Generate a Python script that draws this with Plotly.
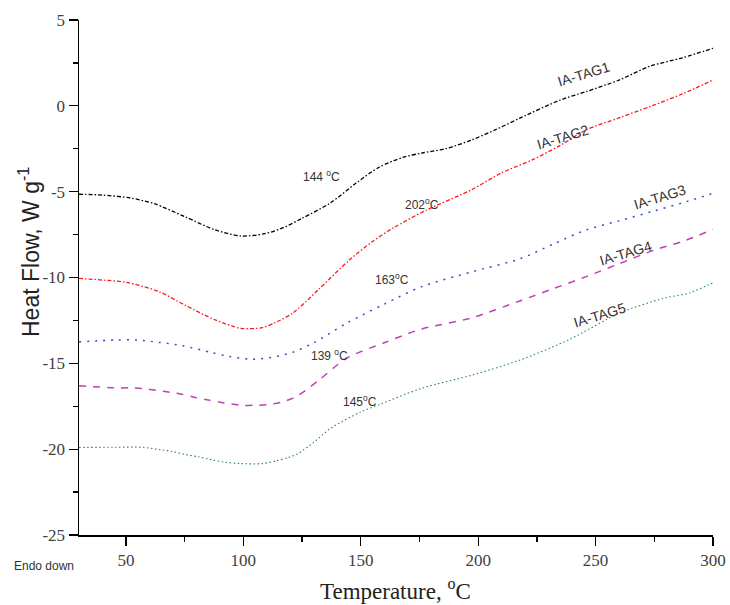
import plotly.graph_objects as go

# ---- data ----
x_tag1 = [30, 40, 52, 62, 75, 88, 99, 109, 117, 125, 137, 148, 158, 168, 176, 186, 197, 208, 218, 235, 246, 260, 273, 287, 300]
y_tag1 = [-5.15, -5.2, -5.37, -5.7, -6.45, -7.23, -7.58, -7.45, -7.1, -6.55, -5.66, -4.5, -3.56, -3.0, -2.75, -2.5, -2.0, -1.35, -0.7, 0.34, 0.83, 1.5, 2.3, 2.8, 3.35]

x_tag2 = [30, 40, 50, 64, 75, 88, 99, 108, 114, 121, 132, 145, 155, 164, 178, 197, 210, 223, 235, 246, 260, 274, 287, 300]
y_tag2 = [-10.05, -10.15, -10.28, -10.82, -11.6, -12.47, -12.96, -12.92, -12.6, -12.08, -10.7, -9.0, -7.9, -7.1, -6.07, -4.9, -3.9, -3.15, -2.3, -1.4, -0.7, 0.0, 0.7, 1.5]

x_tag3 = [30, 46, 55, 64, 74, 86, 94, 103, 112, 121, 130, 144, 160, 176, 197, 218, 232, 246, 260, 274, 287, 300]
y_tag3 = [-13.75, -13.64, -13.64, -13.78, -13.97, -14.36, -14.6, -14.76, -14.65, -14.36, -13.8, -12.66, -11.55, -10.53, -9.68, -8.9, -8.05, -7.23, -6.7, -6.16, -5.65, -5.1]

x_tag4 = [30, 45, 52, 59, 66, 73, 79, 85, 91, 99, 106, 113, 118, 123, 132, 144, 160, 176, 197, 218, 232, 246, 260, 275, 287, 300]
y_tag4 = [-16.3, -16.43, -16.43, -16.5, -16.63, -16.78, -16.97, -17.13, -17.29, -17.44, -17.44, -17.36, -17.19, -16.9, -16.0, -14.7, -13.8, -13.0, -12.36, -11.35, -10.65, -9.95, -9.2, -8.4, -7.9, -7.2]

x_tag5 = [30, 45, 57, 65, 70, 75, 81, 87, 92, 99, 108, 114, 119, 123, 130, 137, 150, 158, 176, 197, 218, 239, 260, 279, 290, 300]
y_tag5 = [-19.9, -19.89, -19.89, -20.04, -20.14, -20.3, -20.45, -20.63, -20.76, -20.84, -20.84, -20.68, -20.49, -20.28, -19.6, -18.8, -17.83, -17.4, -16.45, -15.7, -14.8, -13.6, -12.08, -11.21, -10.9, -10.3]

series = [
    ("IA-TAG1", x_tag1, y_tag1, "#000000", "4px,2px,1.5px,2px", 1.3),
    ("IA-TAG2", x_tag2, y_tag2, "#ff1a1a", "4px,2px,1.5px,2px", 1.3),
    ("IA-TAG3", x_tag3, y_tag3, "#3050c8", "2px,6px", 1.5),
    ("IA-TAG4", x_tag4, y_tag4, "#c040b8", "7px,7px", 1.5),
    ("IA-TAG5", x_tag5, y_tag5, "#2a8a4a", "1.5px,2.5px", 1.1),
]

x_ticks = [50, 100, 150, 200, 250, 300]
x_ticktext = ["50", "100", "150", "200", "250", "300"]
y_ticks = [5, 0, -5, -10, -15, -20, -25]
y_ticktext = ["5", "0", "-5", "-10", "-15", "-20", "-25"]

# series labels: (text, x, y, angle)
series_labels = [
    ("IA-TAG1", 245.1, 1.85, -17),
    ("IA-TAG2", 236.1, -1.8, -17),
    ("IA-TAG3", 277.4, -5.3, -17),
    ("IA-TAG4", 263.0, -8.6, -17),
    ("IA-TAG5", 251.9, -12.2, -17),
]
# peak temperature labels
temp_labels = [
    ("144 <sup>o</sup>C", 133.1, -4.08),
    ("202<sup>o</sup>C", 176.1, -5.72),
    ("163<sup>o</sup>C", 163.3, -10.1),
    ("139 <sup>o</sup>C", 136.5, -14.52),
    ("145<sup>o</sup>C", 149.7, -17.2),
]

W, H = 730, 605
ml, mr, mt, mb = 79, 17, 20, 70
pw, ph = W - ml - mr, H - mt - mb

fig = go.Figure()
for name, xs, ys, col, dash, w in series:
    fig.add_trace(go.Scatter(x=xs, y=ys, mode="lines", name=name,
                             line=dict(color=col, dash=dash, width=w, shape="spline", smoothing=0.8),
                             showlegend=False, hoverinfo="skip"))

sans = "Liberation Sans"
serif = "Liberation Serif"
anns = []
for t, x, y, a in series_labels:
    anns.append(dict(text=t, x=x, y=y, xref="x", yref="y", showarrow=False, textangle=a,
                     xanchor="center", yanchor="middle",
                     font=dict(family=sans, size=14, color="#333333")))
for t, x, y in temp_labels:
    anns.append(dict(text=t, x=x, y=y, xref="x", yref="y", showarrow=False,
                     xanchor="center", yanchor="middle",
                     font=dict(family=sans, size=12, color="#333333")))
anns.append(dict(text="Endo down", x=(44 - ml) / pw, y=(H - mb - 566) / ph, xref="paper", yref="paper",
                 showarrow=False, xanchor="center", yanchor="middle",
                 font=dict(family=sans, size=12, color="#333333")))
anns.append(dict(text="Heat Flow, W g<sup>-1</sup>", x=(29 - ml) / pw, y=(H - mb - 252) / ph, xref="paper", yref="paper",
                 showarrow=False, textangle=-90, xanchor="center", yanchor="middle",
                 font=dict(family=sans, size=23, color="#222222")))
anns.append(dict(text="Temperature, <sup>o</sup>C", x=(395 - ml) / pw, y=(H - mb - 589) / ph, xref="paper", yref="paper",
                 showarrow=False, xanchor="center", yanchor="middle",
                 font=dict(family=serif, size=23, color="#222222")))

fig.update_layout(
    width=W, height=H,
    margin=dict(l=ml, r=mr, t=mt, b=mb),
    paper_bgcolor="white", plot_bgcolor="white",
    annotations=anns,
    hovermode=False,
    xaxis=dict(range=[30, 300], tickvals=x_ticks, ticktext=x_ticktext, ticks="outside", ticklen=9, tickwidth=1.3,
               tickcolor="black", showline=True, linecolor="black", linewidth=1.5,
               showgrid=False, zeroline=False, automargin=False,
               minor=dict(tickvals=[75, 125, 175, 225, 275], ticks="outside", ticklen=5, tickcolor="black", tickwidth=1.3),
               tickfont=dict(family=serif, size=17, color="#404040")),
    yaxis=dict(range=[-25, 5], tickvals=y_ticks, ticktext=y_ticktext, ticks="outside", ticklen=9, tickwidth=1.3,
               tickcolor="black", showline=True, linecolor="black", linewidth=1.5,
               showgrid=False, zeroline=False, automargin=False,
               minor=dict(tickvals=[2.5, -2.5, -7.5, -12.5, -17.5, -22.5], ticks="outside", ticklen=5, tickcolor="black", tickwidth=1.3),
               tickfont=dict(family=serif, size=17, color="#404040")),
)

fig.write_html("out.html", config={"displayModeBar": False, "staticPlot": True},
               post_script="document.body.style.margin='0px';document.body.style.padding='0px';")
